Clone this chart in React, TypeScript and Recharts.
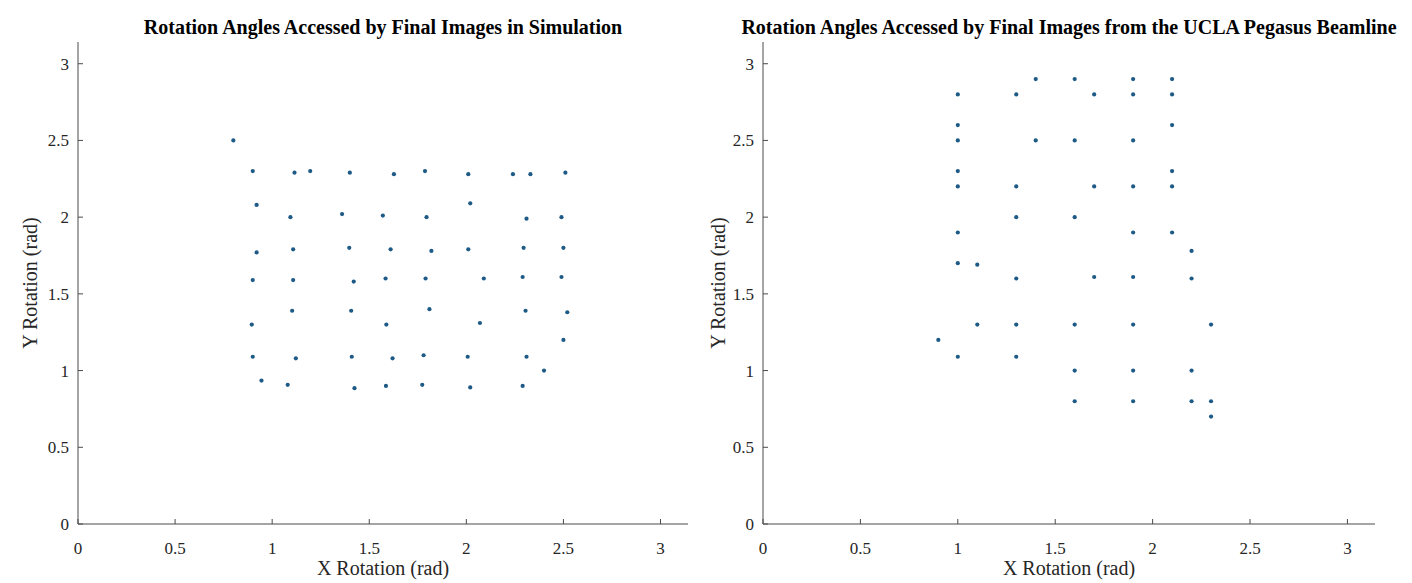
import { ScatterChart, Scatter, XAxis, YAxis, Label } from "recharts";

// simulation: rotation angles (rad)
const simX = [
  0.8, 0.9, 1.115, 1.196, 1.4, 1.627, 1.787, 2.01, 2.24, 2.33, 2.51,
  0.92, 1.094, 1.36, 1.57, 1.795, 2.02, 2.31, 2.49,
  0.92, 1.108, 1.397, 1.61, 1.82, 2.01, 2.295, 2.5,
  0.9, 1.108, 1.42, 1.584, 1.79, 2.09, 2.29, 2.49,
  1.103, 1.407, 1.81, 2.305, 2.52,
  0.895, 1.588, 2.07, 2.5,
  0.9, 1.122, 1.41, 1.62, 1.78, 2.007, 2.31, 2.4,
  0.945, 1.08, 1.424, 1.586, 1.773, 2.02, 2.29,
];
const simY = [
  2.5, 2.3, 2.29, 2.3, 2.29, 2.28, 2.3, 2.28, 2.28, 2.28, 2.29,
  2.08, 2.0, 2.02, 2.01, 2.0, 2.09, 1.99, 2.0,
  1.77, 1.79, 1.8, 1.79, 1.78, 1.79, 1.8, 1.8,
  1.59, 1.59, 1.58, 1.6, 1.6, 1.6, 1.61, 1.61,
  1.39, 1.39, 1.4, 1.39, 1.38,
  1.3, 1.3, 1.31, 1.2,
  1.09, 1.08, 1.09, 1.08, 1.1, 1.09, 1.09, 1.0,
  0.935, 0.907, 0.885, 0.9, 0.907, 0.89, 0.9,
];

// UCLA Pegasus beamline
const expX = [
  1.4, 1.6, 1.9, 2.1,
  1.0, 1.3, 1.7, 1.9, 2.1,
  1.0, 2.1,
  1.0, 1.4, 1.6, 1.9,
  1.0, 2.1,
  1.0, 1.3, 1.7, 1.9, 2.1,
  1.3, 1.6,
  1.0, 1.9, 2.1,
  2.2,
  1.0, 1.1,
  1.3, 1.7, 1.9, 2.2,
  1.1, 1.3, 1.6, 1.9, 2.3,
  0.9,
  1.0, 1.3,
  1.6, 1.9, 2.2,
  1.6, 1.9, 2.2, 2.3,
  2.3,
];
const expY = [
  2.9, 2.9, 2.9, 2.9,
  2.8, 2.8, 2.8, 2.8, 2.8,
  2.6, 2.6,
  2.5, 2.5, 2.5, 2.5,
  2.3, 2.3,
  2.2, 2.2, 2.2, 2.2, 2.2,
  2.0, 2.0,
  1.9, 1.9, 1.9,
  1.78,
  1.7, 1.69,
  1.6, 1.61, 1.61, 1.6,
  1.3, 1.3, 1.3, 1.3, 1.3,
  1.2,
  1.09, 1.09,
  1.0, 1.0, 1.0,
  0.8, 0.8, 0.8, 0.8,
  0.7,
];

const ticks = [0, 0.5, 1, 1.5, 2, 2.5, 3];

const simData = simX.map((x, i) => ({ x, y: simY[i] }));
const expData = expX.map((x, i) => ({ x, y: expY[i] }));

const FONT = "'Liberation Serif', 'Times New Roman', serif";
const AXIS = "#4a4a4a";
const TEXT = "#262626";
const DOT = "#1d5a86";

const dot = (p: any) => <circle cx={p.cx} cy={p.cy} r={2.1} fill={DOT} />;

function Panel({
  data,
  title,
  left,
  yWidth,
  right,
  yLabelOffset,
}: {
  data: { x: number; y: number }[];
  title: string;
  left: number;
  yWidth: number;
  right: number;
  yLabelOffset: number;
}) {
  const w = 706;
  const plotLeft = yWidth;
  const plotRight = w - right;
  return (
    <div style={{ position: "absolute", left, top: 0, width: w, height: 583 }}>
      <div
        style={{
          position: "absolute",
          left: plotLeft - 40,
          width: plotRight - plotLeft + 80,
          top: 16,
          textAlign: "center",
          fontFamily: FONT,
          fontWeight: "bold",
          fontSize: 20,
          color: "#000",
          whiteSpace: "nowrap",
        }}
      >
        {title}
      </div>
      <ScatterChart
        width={w}
        height={583}
        margin={{ top: 42, right, bottom: 0, left: 0 }}
      >
        <XAxis
          type="number"
          dataKey="x"
          domain={[0, Math.PI]}
          ticks={ticks}
          allowDataOverflow
          height={59}
          tickSize={-5}
          tickMargin={23}
          stroke={AXIS}
          tick={{ fill: TEXT, fontFamily: FONT, fontSize: 17 }}
        >
          <Label
            value="X Rotation (rad)"
            position="insideBottom"
            offset={8}
            style={{ fill: TEXT, fontFamily: FONT, fontSize: 20 }}
          />
        </XAxis>
        <YAxis
          type="number"
          dataKey="y"
          domain={[0, Math.PI]}
          ticks={ticks}
          allowDataOverflow
          width={yWidth}
          tickSize={-5}
          tickMargin={14}
          stroke={AXIS}
          tick={{ fill: TEXT, fontFamily: FONT, fontSize: 17 }}
        >
          <Label
            value="Y Rotation (rad)"
            angle={-90}
            position="insideLeft"
            offset={yLabelOffset}
            style={{
              fill: TEXT,
              fontFamily: FONT,
              fontSize: 20,
              textAnchor: "middle",
            }}
          />
        </YAxis>
        <Scatter data={data} shape={dot} isAnimationActive={false} />
      </ScatterChart>
    </div>
  );
}

export default function App() {
  return (
    <div
      style={{
        position: "absolute",
        left: 0,
        top: 0,
        width: 1412,
        height: 583,
        background: "#fff",
      }}
    >
      <Panel
        data={simData}
        title="Rotation Angles Accessed by Final Images in Simulation"
        left={0}
        yWidth={78}
        right={18}
        yLabelOffset={30}
      />
      <Panel
        data={expData}
        title="Rotation Angles Accessed by Final Images from the UCLA Pegasus Beamline"
        left={706}
        yWidth={57}
        right={37}
        yLabelOffset={12}
      />
    </div>
  );
}
